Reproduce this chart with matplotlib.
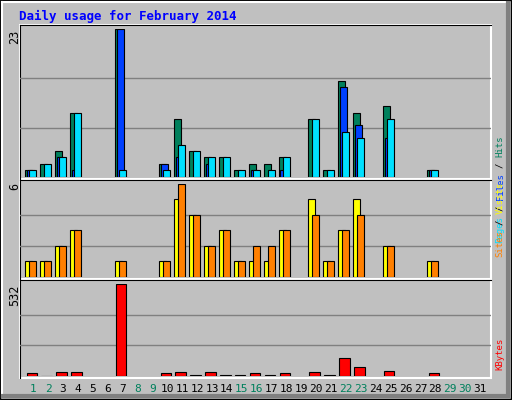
import matplotlib
matplotlib.use("Agg")
import matplotlib.pyplot as plt
from matplotlib.patches import Rectangle

days = list(range(1, 32))
hits = [1, 2, 4, 10, 0, 0, 23, 0, 0, 2, 9, 4, 3, 3, 1, 2, 2, 3, 0, 9, 1, 15, 10, 0, 11, 0, 0, 1, 0, 0, 0]
files = [1, 0, 3, 1, 0, 0, 23, 0, 0, 2, 3, 0, 2, 0, 0, 1, 0, 1, 0, 0, 0, 14, 8, 0, 6, 0, 0, 1, 0, 0, 0]
pages = [1, 2, 3, 10, 0, 0, 1, 0, 0, 1, 5, 4, 3, 3, 1, 1, 1, 3, 0, 9, 1, 7, 6, 0, 9, 0, 0, 1, 0, 0, 0]
visits = [1, 1, 2, 3, 0, 0, 1, 0, 0, 1, 5, 4, 2, 3, 1, 1, 1, 3, 0, 5, 1, 3, 5, 0, 2, 0, 0, 1, 0, 0, 0]
sites = [1, 1, 2, 3, 0, 0, 1, 0, 0, 1, 6, 4, 2, 3, 1, 2, 2, 3, 0, 4, 1, 3, 4, 0, 2, 0, 0, 1, 0, 0, 0]
kbytes = [15, 2, 21, 21, 0, 0, 532, 0, 0, 15, 21, 3, 21, 3, 3, 15, 3, 15, 0, 21, 3, 102, 50, 0, 27, 0, 0, 15, 0, 0, 0]
weekend = {1, 2, 8, 9, 15, 16, 22, 23, 29, 30}

W, H = 512, 400
BG = "#C0C0C0"
fig = plt.figure(figsize=(W / 100, H / 100), dpi=100)
fig.patch.set_facecolor(BG)

bg = fig.add_axes([0, 0, 1, 1])
bg.set_xlim(0, W)
bg.set_ylim(H, 0)
bg.axis("off")
# bevelled outer border
bg.add_patch(Rectangle((0, 0), W - 1, H - 1, fill=False, ec="black", lw=1))
bg.plot([2, W - 3], [2, 2], color="white", lw=1.5)
bg.plot([2, 2], [2, H - 3], color="white", lw=1.5)
bg.plot([W - 4, W - 4], [3, H - 4], color="#808080", lw=3)
bg.plot([3, W - 4], [H - 4, H - 4], color="#808080", lw=3)
# panel frames
for y0, y1 in [(25, 179), (180, 279), (280, 378)]:
    bg.add_patch(Rectangle((20, y0), 471, y1 - y0, fill=False, ec="white", lw=1.5))
    bg.plot([20, 491], [y0, y0], color="black", lw=0.8)
    bg.plot([20, 20], [y0, y1], color="black", lw=0.8)

bg.text(19, 16, "Daily usage for February 2014", color="#0000FF", fontsize=9,
        fontweight="bold", family="DejaVu Sans Mono", va="center")

def panel(top, base):
    ax = fig.add_axes([20 / W, 1 - base / H, 471 / W, (base - top) / H])
    ax.set_xlim(0.107, 31.74)
    ax.axis("off")
    return ax

def grid(ax, vmax):
    for f in (1 / 3, 2 / 3):
        ax.axhline(vmax * f, color="#808080", lw=1, zorder=0)

mono = "DejaVu Sans Mono"
ax1 = panel(29.3, 176.7)
ax1.set_ylim(0, 23)
grid(ax1, 23)
bw = 0.47
for vals, off, col in [(hits, -0.53, "#00805C"), (files, -0.4, "#0040FF"), (pages, -0.26, "#00E0FF")]:
    xs = [d + off for d, v in zip(days, vals) if v > 0]
    hs = [v for v in vals if v > 0]
    ax1.bar(xs, hs, width=bw, align="edge", color=col, edgecolor="black", lw=0.8, zorder=2)

ax2 = panel(184, 276.7)
ax2.set_ylim(0, 6)
grid(ax2, 6)
for vals, off, col in [(visits, -0.53, "#FFFF00"), (sites, -0.26, "#FF8000")]:
    xs = [d + off for d, v in zip(days, vals) if v > 0]
    hs = [v for v in vals if v > 0]
    ax2.bar(xs, hs, width=bw, align="edge", color=col, edgecolor="black", lw=0.8, zorder=2)

ax3 = panel(284.3, 376)
ax3.set_ylim(0, 532)
grid(ax3, 532)
xs = [d - 0.45 for d, v in zip(days, kbytes) if v > 0]
hs = [v for v in kbytes if v > 0]
ax3.bar(xs, hs, width=0.7, align="edge", color="#FF0000", edgecolor="black", lw=0.8, zorder=2)

# max labels on the left
for y, s in [(30, "23"), (183, "6"), (285, "532")]:
    bg.text(15, y, s, rotation=90, ha="center", va="top", fontsize=8.5, family=mono)

# day labels
for d in days:
    px = 33.3 + 14.89 * (d - 1)
    bg.text(px, 389, str(d), ha="center", va="center", fontsize=8, family=mono,
            color="#00805C" if d in weekend else "black")

# right-hand legends, reading bottom to top
def vlegend(y_bottom, parts):
    y = y_bottom
    for s, col in parts:
        s = s.strip()
        bg.text(500, y, s, rotation=90, ha="center", va="bottom", fontsize=6.5,
                family=mono, color=col)
        y -= len(s) * 5.35 + 5.35

vlegend(136 + 5.35 * 20, [("Pages", "#00E0FF"), ("/", "black"), ("Files", "#0040FF"),
                          ("/", "black"), ("Hits", "#00805C")])
vlegend(257, [("Sites", "#FF8000"), ("/", "black"), ("Visits", "#FFFF00")])
vlegend(370, [("KBytes", "#FF0000")])

fig.savefig("out.png", dpi=100, facecolor=BG)
